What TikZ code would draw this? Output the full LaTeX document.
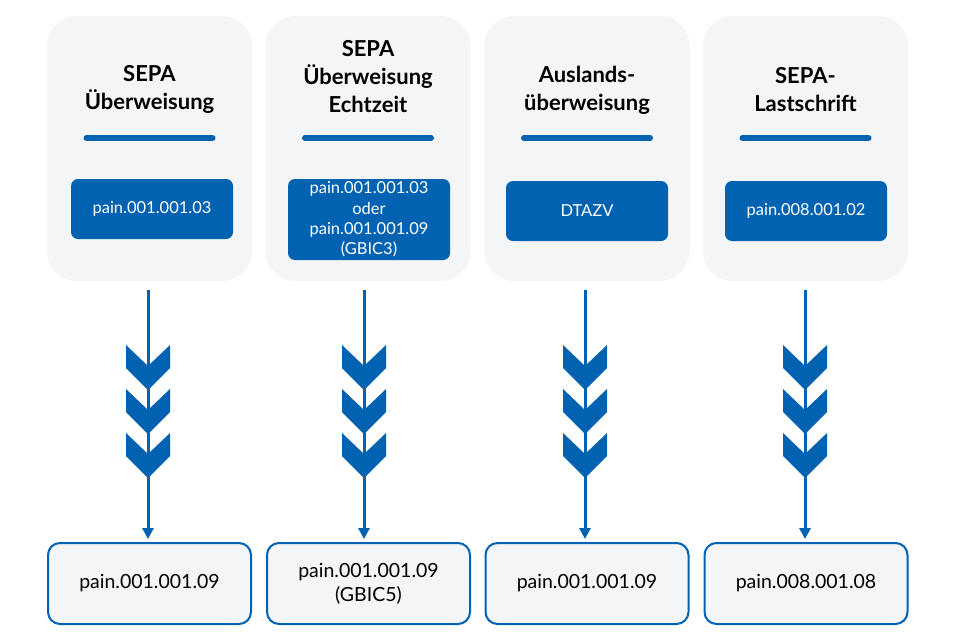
\documentclass[tikz,border=0pt]{standalone}
\usepackage{fontspec}
\setmainfont{Lato}
\usetikzlibrary{arrows.meta}
\definecolor{bblue}{RGB}{0,98,176}
\definecolor{cardbg}{RGB}{244,245,247}
\begin{document}
\begin{tikzpicture}[x=1pt,y=-1pt,
  card/.style={fill=cardbg,rounded corners=30pt,minimum width=205pt,minimum height=265pt,inner sep=0pt},
  ttl/.style={font=\fontsize{22}{28}\selectfont\bfseries,align=center,text=black},
  bar/.style={draw=bblue,line width=6pt,line cap=round},
  inbox/.style={fill=bblue,rounded corners=7pt,minimum width=162pt,inner sep=0pt,text=white,font=\fontsize{16.5}{21}\selectfont,align=center},
  outbox/.style={draw=bblue,line width=2pt,fill=cardbg,rounded corners=12pt,minimum width=203pt,minimum height=81pt,inner sep=0pt,font=\fontsize{19.5}{24}\selectfont,align=center},
  flow/.style={draw=bblue,line width=3pt,-{Triangle[width=11pt,length=11pt]},shorten <=9pt,shorten >=4pt},
  chev/.style={fill=bblue,draw=none}
]
\useasboundingbox (0,0) rectangle (960,640);
\foreach \i/\cx in {1/149.5,2/368,3/587,4/805.5}{
  \node[card] (c\i) at (\cx,148.5) {};
  \draw[bar] (\cx-63,138) -- (\cx+63,138);
}
\node[ttl] (t1) at (149.5,89) {SEPA\\Überweisung};
\node[ttl] (t2) at (368,77) {SEPA\\Überweisung\\Echtzeit};
\node[ttl] (t3) at (587,90) {Auslands-\\überweisung};
\node[ttl] (t4) at (805.5,90) {SEPA-\\Lastschrift};
\node[inbox,minimum height=60pt] (i1) at (152,209) {pain.001.001.03};
\node[inbox,minimum height=81pt,font=\fontsize{16.5}{20.3}\selectfont] (i2) at (369,219.5) {pain.001.001.03\\oder\\pain.001.001.09\\(GBIC3)};
\node[inbox,minimum height=60pt] (i3) at (587,211) {DTAZV};
\node[inbox,minimum height=60pt] (i4) at (806,211) {pain.008.001.02};
\node[outbox] (b1) at (149.5,583.5) {pain.001.001.09};
\node[outbox] (b2) at (368.5,583.5) {pain.001.001.09\\(GBIC5)};
\node[outbox] (b3) at (587,583.5) {pain.001.001.09};
\node[outbox] (b4) at (806,583.5) {pain.008.001.08};
\foreach \i/\ax in {1/148,2/364,3/585,4/805}{
  \coordinate (s\i) at (\ax,281);
  \coordinate (e\i) at (\ax,543);
  \draw[flow] (s\i) -- (e\i);
  \foreach \dy in {0,44,88}{
    \fill[chev] (\ax-22,345+\dy) -- (\ax,366+\dy) -- (\ax+22,345+\dy) -- (\ax+22,368+\dy) -- (\ax,390+\dy) -- (\ax-22,368+\dy) -- cycle;
  }
}
\end{tikzpicture}
\end{document}
